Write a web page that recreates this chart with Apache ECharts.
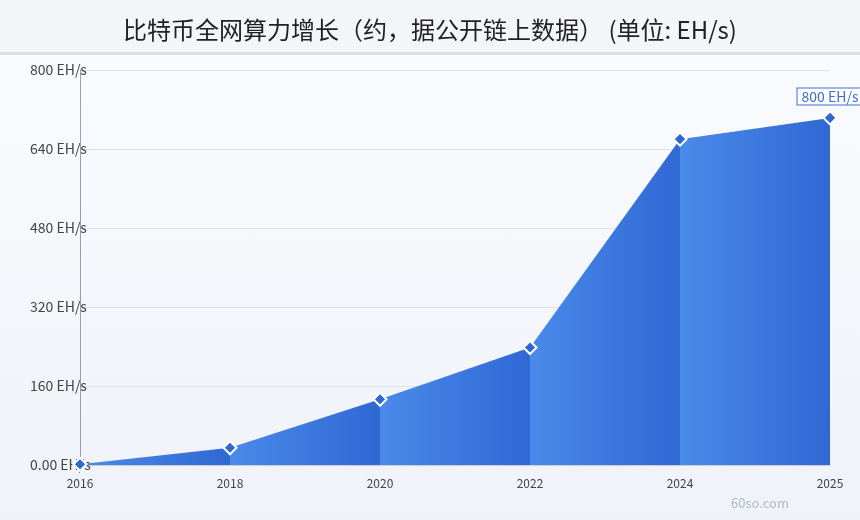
<!DOCTYPE html>
<html>
<head>
<meta charset="utf-8">
<title>比特币全网算力增长</title>
<script src="https://cdn.jsdelivr.net/npm/echarts@6/dist/echarts.min.js"></script>
<style>
    html, body { margin: 0; padding: 0; }
    #charts { width: 860px; height: 520px; background: linear-gradient(#fbfcfe, #eff2f8); }
</style>
</head>
<body>
<div id="charts"></div>
<script>
// 年份与算力 (EH/s)，从图上读出的近似值
var years = ['2016', '2018', '2020', '2022', '2024', '2025'];
var hashrate = [1.5, 35, 133, 238, 660, 703];
var yTicks = [0, 160, 320, 480, 640, 800];
var lastLabel = '800 EH/s';

var chart = echarts.init(document.getElementById('charts'));

// 每一段画一个多边形，左浅右深
function renderSegment(params, api) {
    var i = params.dataIndex;
    if (i === 0) return null;
    var p0 = api.coord([i - 1, hashrate[i - 1]]);
    var p1 = api.coord([i, hashrate[i]]);
    var b0 = api.coord([i - 1, 0]);
    var b1 = api.coord([i, 0]);
    return {
        type: 'polygon',
        shape: { points: [b0, p0, p1, b1] },
        style: {
            fill: new echarts.graphic.LinearGradient(0, 0, 1, 0, [
                { offset: 0, color: '#4a8ae9' },
                { offset: 1, color: '#3068d4' }
            ])
        }
    };
}

var lineData = [];
for (var i = 0; i < hashrate.length; i++) {
    if (i === hashrate.length - 1) {
        lineData.push({ value: hashrate[i], label: { show: true } });
    } else {
        lineData.push(hashrate[i]);
    }
}

var option = {
    title: {
        text: '比特币全网算力增长（约，据公开链上数据） (单位: EH/s)',
        left: 'center',
        top: 13,
        textStyle: {
            fontFamily: 'Noto Sans CJK SC',
            fontSize: 24,
            fontWeight: 'normal',
            color: '#222'
        }
    },
    graphic: [
        {
            type: 'rect', z: -10, silent: true,
            shape: { x: 0, y: 0, width: 860, height: 52 },
            style: { fill: '#f4f5f9' }
        },
        {
            type: 'rect', z: -10, silent: true,
            shape: { x: 0, y: 52, width: 860, height: 3 },
            style: { fill: '#dcdfe7' }
        },
        {
            type: 'text', right: 71, bottom: 10,
            style: {
                text: '60so.com',
                fill: '#b3b8c3',
                fontSize: 13,
                fontFamily: 'Noto Sans CJK SC'
            }
        }
    ],
    grid: { left: 80, right: 30, top: 70, bottom: 55 },
    xAxis: {
        type: 'category',
        data: years,
        boundaryGap: false,
        axisLine: { show: true, lineStyle: { color: '#c8ccd4' } },
        axisTick: { show: false },
        splitLine: { show: false },
        axisLabel: {
            color: '#444',
            fontSize: 12,
            margin: 12,
            fontFamily: 'Noto Sans CJK SC'
        }
    },
    yAxis: {
        type: 'value',
        min: yTicks[0],
        max: yTicks[yTicks.length - 1],
        interval: 160,
        axisLine: { show: true, lineStyle: { color: '#9aa0aa' } },
        axisTick: { show: false },
        splitLine: { lineStyle: { color: '#dde1e9' } },
        axisLabel: {
            align: 'left',
            margin: 50,
            color: '#444',
            fontSize: 14,
            fontFamily: 'Noto Sans CJK SC',
            formatter: function (v) {
                return (v === 0 ? '0.00' : v) + ' EH/s';
            }
        }
    },
    series: [
        {
            type: 'custom',
            renderItem: renderSegment,
            data: hashrate,
            z: 1
        },
        {
            type: 'line',
            data: lineData,
            z: 3,
            lineStyle: { width: 0 },
            symbol: 'diamond',
            symbolSize: 13,
            itemStyle: { color: '#2f67d4', borderColor: '#fff', borderWidth: 2 },
            label: {
                show: false,
                position: 'top',
                distance: 6,
                color: '#3a6fd0',
                fontSize: 14,
                fontFamily: 'Noto Sans CJK SC',
                backgroundColor: '#fff',
                borderColor: '#3a6fd0',
                borderWidth: 1,
                padding: [1, 4],
                formatter: function () {
                    return lastLabel;
                }
            }
        }
    ]
};

chart.setOption(option);
</script>
</body>
</html>
